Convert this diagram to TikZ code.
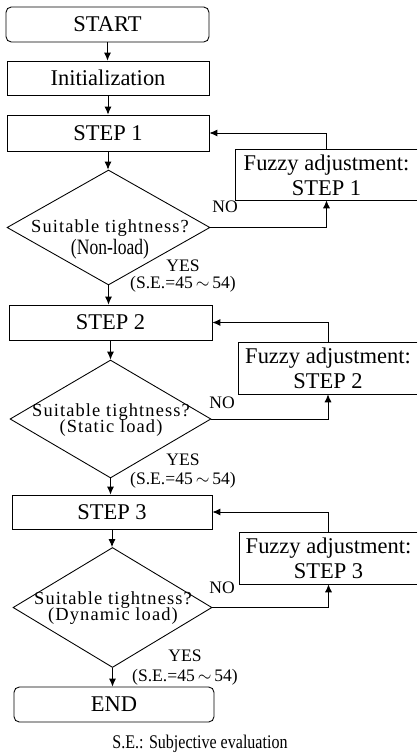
\documentclass[tikz,border=0pt]{standalone}
\usepackage{fontspec}
\setmainfont{Liberation Serif}
\usepackage{graphicx}
\usetikzlibrary{arrows.meta, positioning, shapes.geometric}

\tikzset{
  flowline/.style={line width=0.5pt, -{Latex[length=4.5pt,width=4pt]}},
  stepbox/.style={draw, line width=0.5pt, minimum width=4.04cm, minimum height=0.7cm,
    inner sep=0pt, font=\fontsize{12.8}{15}\selectfont},
  termbox/.style={stepbox, rounded corners=3pt},
  decision/.style={draw, diamond, line width=0.5pt, inner sep=0pt,
    minimum width=4.04cm, minimum height=2.34cm},
  qtext/.style={align=center, inner sep=0pt,
    font=\fontsize{10.5}{12}\selectfont\addfontfeatures{LetterSpace=6}},
  fuzzybox/.style={minimum width=3.58cm, minimum height=1.02cm, inner sep=0pt,
    align=center, font=\fontsize{12.8}{14.2}\selectfont},
  answer/.style={inner sep=0pt, font=\fontsize{10}{12}\selectfont},
}

\begin{document}
\begin{tikzpicture}[x=0.02cm, y=-0.02cm]
  \useasboundingbox (0,0) rectangle (417,753);
  % main column
  \node[termbox, minimum width=4.06cm] (start) at (107.5,24.5) {START};
  \node[stepbox, minimum height=0.68cm] (init) at (108,78) {Initialization};
  \node[stepbox, minimum height=0.72cm] (step1) at (108,133) {STEP 1};
  \node[decision, minimum width=4.06cm, minimum height=2.30cm] (q1) at (108.5,227.5) {};
  \node[stepbox, minimum width=4.06cm] (step2) at (110.5,322.5) {STEP 2};
  \node[decision, minimum width=4.02cm, minimum height=2.36cm] (q2) at (110.5,419) {};
  \node[stepbox, minimum width=4.0cm, minimum height=0.68cm] (step3) at (112,512) {STEP 3};
  \node[decision, minimum width=3.98cm, minimum height=2.40cm] (q3) at (112.5,607.5) {};
  \node[termbox, minimum width=4.0cm] (end) at (114,704.5) {END};
  % questions
  \node[qtext] (q1text) at (110,239) {Suitable tightness?\\[0.5pt]{\fontsize{12.5}{14}\selectfont\addfontfeatures{LetterSpace=0}\scalebox{0.8}[1]{(Non-load)}}};
  \node[qtext] (q2text) at (111,420) {Suitable tightness?\\[-2.9pt](Static load)};
  \node[qtext] (q3text) at (113,608) {Suitable tightness?\\[-2.9pt](Dynamic load)};
  % fuzzy adjustment boxes (open on the right)
  \node[fuzzybox, minimum width=3.62cm, minimum height=1.0cm] (fuzzy1) at (326.5,175) {Fuzzy adjustment:\\STEP 1};
  \node[fuzzybox, minimum width=3.56cm] (fuzzy2) at (328,368.5) {Fuzzy adjustment:\\STEP 2};
  \node[fuzzybox, minimum width=3.54cm] (fuzzy3) at (328.5,558.5) {Fuzzy adjustment:\\STEP 3};
  \foreach \k in {1,2,3}
    \draw[line width=0.5pt] (fuzzy\k.north east) -| (fuzzy\k.south west) -- (fuzzy\k.south east);
  % answers
  \node[answer] (no1) at (225,207) {NO};
  \node[answer] (no2) at (222,403) {NO};
  \node[answer] (no3) at (222,588) {NO};
  \node[answer] (yes1) at (183,266) {YES};
  \node[answer] (se1) at (183,284) {(S.E.=45{\,}$\sim${\,}54)};
  \node[answer] (yes2) at (183,460) {YES};
  \node[answer] (se2) at (183,480) {(S.E.=45{\,}$\sim${\,}54)};
  \node[answer] (yes3) at (185,656) {YES};
  \node[answer] (se3) at (185,677) {(S.E.=45{\,}$\sim${\,}54)};
  \node[font=\fontsize{11}{13}\selectfont] (note) at (200,744)
    {\scalebox{0.83}[1]{S.E.: Subjective evaluation}};
  % connectors
  \draw[flowline] (start.south) -- (start.south |- init.north);
  \draw[flowline] (init.south) -- (init.south |- step1.north);
  \draw[flowline] (step1.south) -- (step1.south |- q1.north);
  \draw[flowline] (q1.south) -- (q1.south |- step2.north);
  \draw[flowline] (step2.south) -- (step2.south |- q2.north);
  \draw[flowline] (q2.south) -- (q2.south |- step3.north);
  \draw[flowline] (step3.south) -- (step3.south |- q3.north);
  \draw[flowline] (q3.south) -- (q3.south |- end.north);
  \draw[flowline] (q1.east) -| (fuzzy1.south);
  \draw[flowline] (fuzzy1.north) |- (step1.east);
  \draw[flowline] (q2.east) -| (fuzzy2.south);
  \draw[flowline] (fuzzy2.north) |- (step2.east);
  \draw[flowline] (q3.east) -| (fuzzy3.south);
  \draw[flowline] (fuzzy3.north) |- (step3.east);
\end{tikzpicture}
\end{document}
